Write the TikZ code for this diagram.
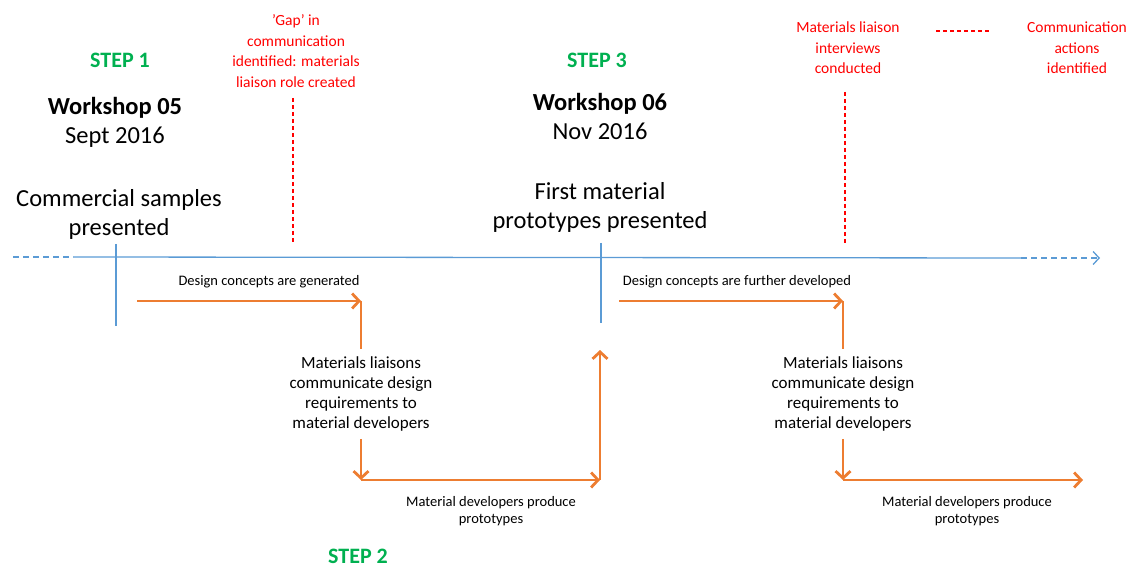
\documentclass[tikz,border=0pt]{standalone}
\usepackage{fontspec}
\setmainfont{Carlito}
\usetikzlibrary{arrows.meta}

\definecolor{stepgreen}{HTML}{00B050}
\definecolor{lineblue}{HTML}{5B9BD5}
\definecolor{floworange}{HTML}{ED7D31}

\tikzset{
  steplabel/.style={text=stepgreen, font=\fontsize{22}{26}\selectfont\bfseries},
  event/.style={align=center, font=\fontsize{24.5}{29}\selectfont},
  note/.style={align=center, text=red, font=\fontsize{15.5}{20.5}\selectfont},
  task/.style={align=center, font=\fontsize{14.5}{17}\selectfont},
  liaisontext/.style={align=center, inner sep=7pt, font=\fontsize{17}{20.3}\selectfont},
  flowline/.style={floworange, line width=2.8pt},
  flowarrow/.style={flowline, -{Straight Barb[length=7pt,width=15pt]}},
  gapline/.style={red, line width=1.1pt, dash pattern=on 4pt off 3pt},
  timeline/.style={lineblue, line width=1.3pt},
}

\begin{document}
\begin{tikzpicture}[x=1pt,y=-1pt]
\useasboundingbox (0,0) rectangle (1143,569);

% Timeline
\coordinate (tl0) at (13,257);
\coordinate (tl1) at (73,257);
\coordinate (tl2) at (1021,258);
\coordinate (tl3) at (1100,258);
\draw[timeline, dash pattern=on 6pt off 4pt] (tl0) -- (tl1);
\draw[timeline] (tl1) -- (tl2);
\draw[timeline, dash pattern=on 6pt off 4pt, -{Straight Barb[length=6pt,width=13pt]}] (tl2) -- (tl3);

% Workshop ticks
\coordinate (ws1top) at (116,244);
\coordinate (ws1bot) at (116,326);
\coordinate (ws3top) at (601,243);
\coordinate (ws3bot) at (601,323);
\draw[timeline] (ws1top) -- (ws1bot);
\draw[timeline] (ws3top) -- (ws3bot);

% Steps
\node[steplabel] (step1) at (120,60) {STEP 1};
\node[steplabel] (step3) at (597,60) {STEP 3};
\node[steplabel] (step2) at (358,556) {STEP 2};

% Workshops
\node[event] (ws05) at (115,122) {\textbf{Workshop 05}\\Sept 2016};
\node[event] (ws06) at (600,116) {\textbf{Workshop 06}\\Nov 2016};
\node[event] (pres1) at (119,214) {Commercial samples\\presented};
\node[event] (pres3) at (600,207) {First material\\prototypes presented};

% Communication notes
\node[note] (gapnote) at (296,51) {’Gap’ in\\communication\\identified: materials\\liaison role created};
\node[note] (interviews) at (848,48) {Materials liaison\\interviews\\conducted};
\node[note] (actions) at (1077,48) {Communication\\actions\\identified};
\coordinate (gaptop) at (293,98);
\coordinate (gapbot) at (293,243);
\coordinate (intop) at (845,92);
\coordinate (inbot) at (845,243);
\draw[gapline] (gaptop) -- (gapbot);
\draw[gapline] (intop) -- (inbot);
\coordinate (linkA) at (936,31);
\coordinate (linkB) at (991,31);
\draw[gapline] (linkA) -- (linkB);

% First loop
\coordinate (a0) at (137,301);
\coordinate (a1) at (361,301);
\coordinate (a2) at (361,480);
\coordinate (a3) at (600,480);
\coordinate (a4) at (600,350);
\node[task] (design1) at (269,282) {Design concepts are generated};
\node[liaisontext] (liaison1) at (361,394) {Materials liaisons\\communicate design\\requirements to\\material developers};
\node[task] (produce1) at (491,511) {Material developers produce\\prototypes};
\draw[flowarrow] (a0) -- (a1);
\draw[flowline] (a1) -- (liaison1.north);
\draw[flowarrow] (liaison1.south) -- (a2);
\draw[flowarrow] (a2) -- (a3);
\draw[flowarrow] (a3) -- (a4);

% Second loop
\coordinate (b0) at (619,301);
\coordinate (b1) at (843,301);
\coordinate (b2) at (843,480);
\coordinate (b3) at (1083,480);
\node[task] (design2) at (737,282) {Design concepts are further developed};
\node[liaisontext] (liaison2) at (843,394) {Materials liaisons\\communicate design\\requirements to\\material developers};
\node[task] (produce2) at (967,511) {Material developers produce\\prototypes};
\draw[flowarrow] (b0) -- (b1);
\draw[flowline] (b1) -- (liaison2.north);
\draw[flowarrow] (liaison2.south) -- (b2);
\draw[flowarrow] (b2) -- (b3);

\end{tikzpicture}
\end{document}
